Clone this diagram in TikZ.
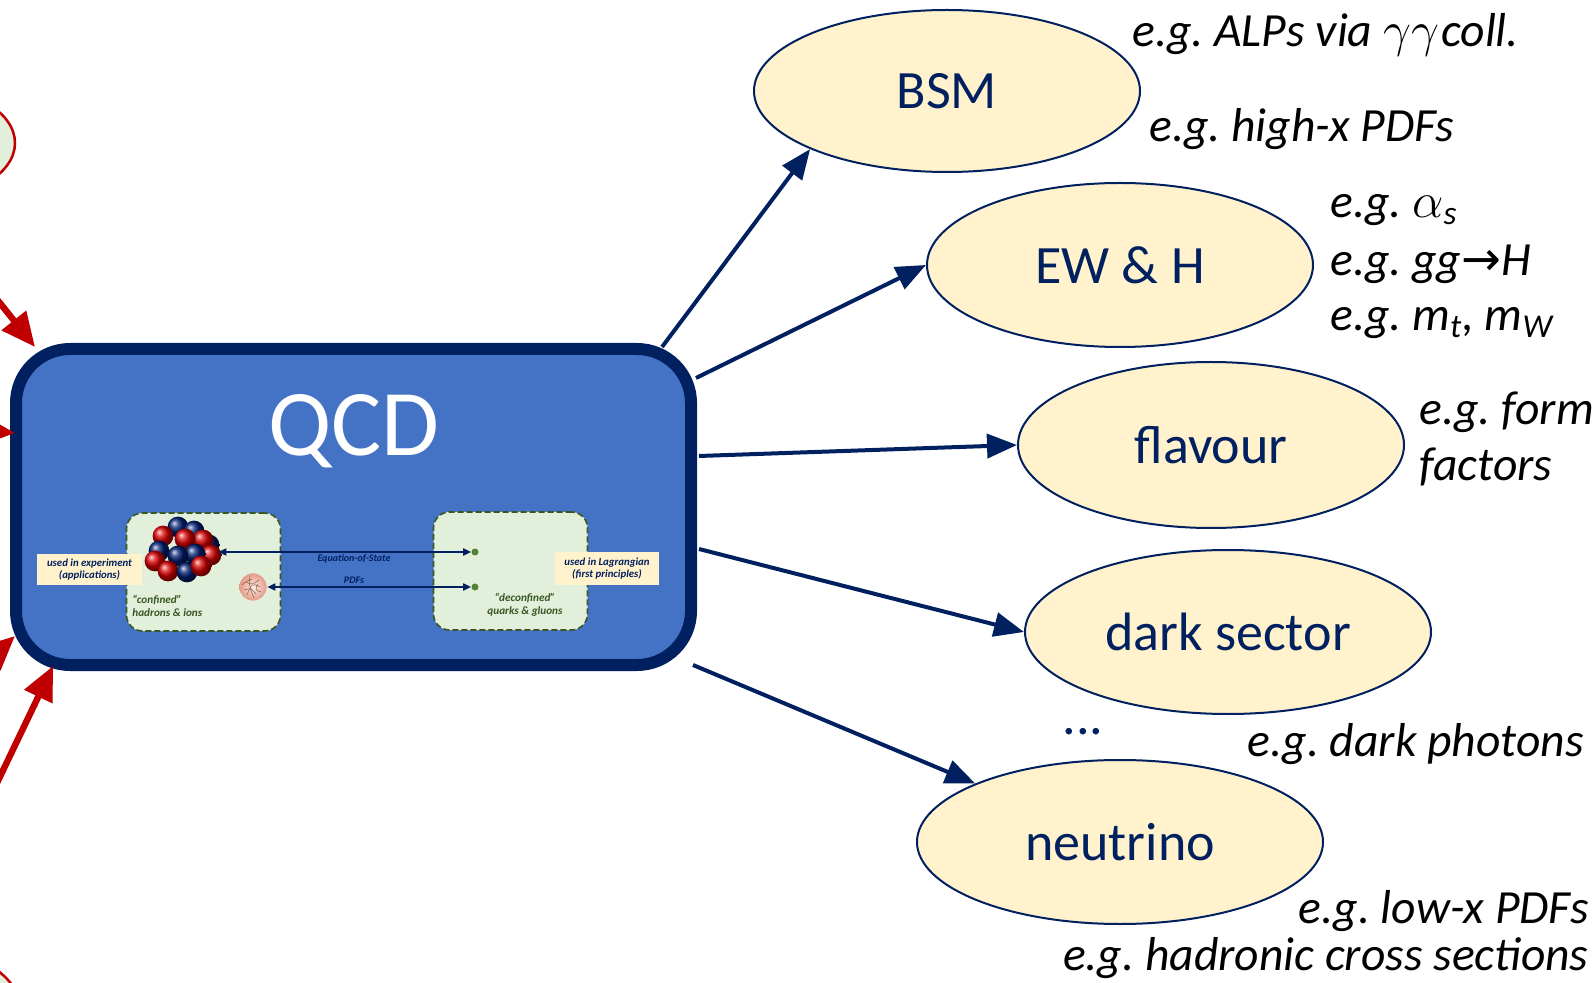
\documentclass[tikz,border=0pt]{standalone}
\usepackage{fontspec}
\setmainfont{Carlito}
\newfontfamily\symfont{DejaVu Sans}
\usetikzlibrary{arrows.meta,calc,shapes.geometric}

\definecolor{navy}{HTML}{002060}
\definecolor{qcdblue}{HTML}{4472C4}
\definecolor{cream}{HTML}{FFF2CC}
\definecolor{palegreen}{HTML}{E2EFDA}
\definecolor{darkgreen}{HTML}{385723}
\definecolor{dotgreen}{HTML}{548235}
\definecolor{linkred}{HTML}{C00000}
\definecolor{salmon}{HTML}{E29A85}

\begin{document}
\frenchspacing
\begin{tikzpicture}[x=0.5pt,y=-0.5pt,
  topic/.style={ellipse, draw=navy, line width=1pt, fill=cream, inner sep=0pt,
    text=navy, font=\fontsize{27}{27}\selectfont},
  note/.style={inner sep=0pt, font=\fontsize{23.8}{28}\selectfont\itshape, text=black},
  bigarrow/.style={draw=navy, line width=2pt, -{Triangle[length=15pt,width=12pt]}},
  redarrow/.style={draw=linkred, line width=3.2pt, -{Triangle[length=17pt,width=15pt]}},
  inarrow/.style={draw=navy, line width=0.7pt, {Triangle[length=4pt,width=3.6pt]}-{Triangle[length=4pt,width=3.6pt]}},
  regionbox/.style={draw=darkgreen, dash pattern=on 3pt off 1.5pt, line width=0.8pt,
    fill=palegreen, rounded corners=8pt, minimum width=77pt, minimum height=59pt},
  tagbox/.style={fill=cream, inner sep=0pt, align=center, text=navy,
    font=\fontsize{5.4}{6.4}\selectfont\bfseries\itshape},
  innertext/.style={inner sep=0pt, text=darkgreen,
    font=\fontsize{5.6}{6.6}\selectfont\bfseries\itshape},
  ball/.style={ball color=#1},
]
\useasboundingbox (0,0) rectangle (1595,983);
\clip (0,0) rectangle (1595,983);

% partially visible source nodes on the left
\node[ellipse, draw=linkred, line width=1.25pt, fill=palegreen,
  minimum width=95pt, minimum height=56pt] (src1) at (-80,143) {};
\node[ellipse, draw=linkred, line width=1.25pt, fill=palegreen,
  minimum width=85pt, minimum height=70pt] (src2) at (-60,1022) {};

% central QCD box
\node[draw=navy, line width=6pt, fill=qcdblue, rounded corners=27pt,
  minimum width=337.5pt, minimum height=158pt] (qcd) at (353.5,507) {};
\node[text=white, font=\fontsize{47}{47}\selectfont] (qcdlabel) at (354,431) {QCD};

% incoming red links
\coordinate (inA) at (-20,278);
\coordinate (inB) at (-60,427);
\coordinate (inC) at (-50,695);
\coordinate (inD) at (-15,808);
\draw[redarrow] (inA) -- ($(qcd.north west)+(25,4)$);
\draw[redarrow] (inB) -- ($(qcd.west)+(5,-74)$);
\draw[redarrow] (inC) -- ($(qcd.west)+(5,129)$);
\draw[redarrow] (inD) -- ($(qcd.south west)+(43,-5)$);

% confined / deconfined regions
\node[regionbox] (conf) at (203.5,572) {};
\node[regionbox] (deconf) at (510.5,571) {};

\node[tagbox, minimum width=52.5pt, minimum height=15.5pt] (exper) at (89.5,569.5)
  {used in experiment\\(applications)};
\node[tagbox, minimum width=52pt, minimum height=16.5pt] (lagr) at (607,568.5)
  {used in Lagrangian\\(first principles)};

% nucleus
\node[minimum width=35pt, minimum height=31pt, inner sep=0pt] (nuc) at (183,549) {};
\foreach \px/\py/\c in {178/527/navy!90!blue, 194/531/navy!90!blue, 163/536/red!85!black,
    209/545/navy!90!blue, 203/540/red!85!black, 185/539/red!85!black,
    159/551/navy!90!blue, 211/555/red!85!black, 195/554/navy!90!blue,
    155/561/red!85!black, 178/556/navy!90!blue, 168/571/red!85!black,
    187/572/navy!90!blue, 201/566/red!85!black}
  \shade[ball=\c] (\px,\py) circle (5.2pt);

% proton
\node[circle, minimum size=14pt, inner sep=0pt] (prot) at (253,587) {};
\shade[inner color=red!8!white, outer color=salmon] (prot) circle (6.8pt);
\draw[brown!60!black, line width=0.2pt]
  (246,582) .. controls (252,585) .. (259,580)
  (244,590) .. controls (251,588) .. (256,594)
  (250,576) .. controls (249,586) .. (254,598)
  (258,584) .. controls (255,590) .. (261,592)
  (247,595) .. controls (252,583) .. (260,587)
  (242,585) .. controls (248,580) .. (252,579);

% links between the two regions
\node[circle, fill=dotgreen, minimum size=3.5pt, inner sep=0pt] (dot1) at (475,552) {};
\node[circle, fill=dotgreen, minimum size=3.5pt, inner sep=0pt] (dot2) at (475,587) {};
\draw[inarrow] (nuc.east |- dot1) -- (dot1.west);
\draw[inarrow] (prot.east |- dot2) -- (dot2.west);
\node[tagbox, fill=none, font=\fontsize{5}{6}\selectfont\bfseries\itshape] (eos) at (354,559) {Equation-of-State};
\node[tagbox, fill=none, font=\fontsize{5}{6}\selectfont\bfseries\itshape] (pdfs) at (354,580) {PDFs};

\node[innertext, anchor=west, align=left] (conftxt) at (132,606) {“confined”\\hadrons \& ions};
\node[innertext, align=center] (deconftxt) at (525,605) {“deconfined”\\quarks \& gluons};

% topics
\node[topic, minimum width=193pt, minimum height=81pt] (bsm) at (947,91) {BSM};
\node[topic, minimum width=193pt, minimum height=82pt] (ewh) at (1120,265) {EW \& H};
\node[topic, minimum width=193pt, minimum height=83pt] (flav) at (1211,445) {flavour};
\node[topic, minimum width=203pt, minimum height=82pt] (dark) at (1228,632) {dark sector};
\node[topic, minimum width=203pt, minimum height=82pt] (nu) at (1120,842) {neutrino};

\draw[bigarrow] ($(qcd.north east)+(-35,4)$) -- (bsm.203.5);
\draw[bigarrow] ($(qcd.north east)+(-1,35)$) -- (ewh.west);
\draw[bigarrow] ($(qcd.east)+(2,-51)$) -- (flav.west);
\draw[bigarrow] ($(qcd.east)+(2,42)$) -- (dark.west);
\draw[bigarrow] ($(qcd.south east)+(-4,-6)$) -- (nu.158);

% examples
\node[note, anchor=west] (n1) at (1132,35) {e.g. ALPs via $\gamma\gamma$\kern1pt coll.};
\node[note, anchor=west] (n2) at (1149,129) {e.g. high-x PDFs};
\node[note, anchor=west] (n3) at (1330,210) {e.g. $\alpha$\textsubscript{s}};
\node[note, anchor=west] (n4) at (1330,264) {e.g. gg{\symfont\upshape →}H};
\node[note, anchor=west] (n5) at (1330,323) {e.g. m\textsubscript{t}, m\textsubscript{W}};
\node[note, anchor=west, align=left] (n6) at (1419,439) {e.g. form\\factors};
\node[text=navy, inner sep=0pt, anchor=base, font=\fontsize{27}{27}\selectfont] (more) at (1083,734) {...};
\node[note, anchor=east] (n7) at (1584,744) {e.g. dark photons};
\node[note, anchor=east] (n8) at (1589,911) {e.g. low-x PDFs};
\node[note, anchor=east] (n9) at (1589,958) {e.g. hadronic cross sections};
\end{tikzpicture}
\end{document}
